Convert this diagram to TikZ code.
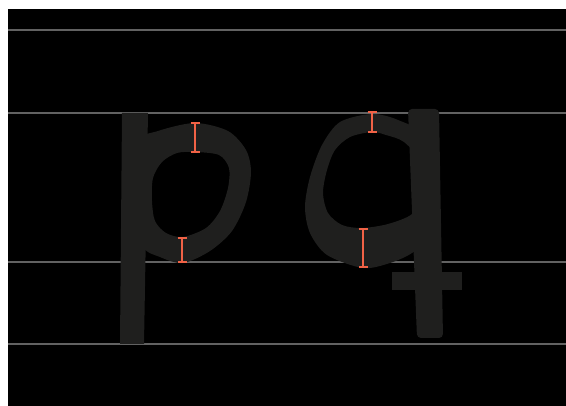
\documentclass[tikz,border=0pt]{standalone}
\usepackage{tikz}
\usetikzlibrary{arrows.meta}
\usepackage{xcolor}
\definecolor{guidegray}{RGB}{98,98,98}
\definecolor{glyphgray}{RGB}{31,31,30}
\definecolor{gaugered}{RGB}{240,98,70}

\begin{document}
\begin{tikzpicture}[x=1pt, y=-1pt,
  guide/.style ={draw=guidegray, line width=1.8pt},
  glyph/.style ={fill=glyphgray},
  gauge/.style ={draw=gaugered, line width=2pt,
                 {Bar[width=9pt]}-{Bar[width=9pt]}}
]
  %% ── Page: white margin top/left, black field ────────────────────────────
  \useasboundingbox (0,0) rectangle (566,406);
  \fill[white] (0,0) rectangle (566,406);
  \fill[black] (8,9) rectangle (566,406);

  %% ── Guide lines: ascender, x-height, baseline, descender ────────────────
  \foreach \gy in {30,113,262,344}
    \draw[guide] (8,\gy) -- (566,\gy);

  %% ── Letter p: stem + bowl with counter ──────────────────────────────────
  \fill[glyph] (122,113) -- (148,113) -- (144,344) -- (120,344) -- cycle;
  \fill[glyph, even odd rule]
    plot[smooth cycle] coordinates {(138,142) (158,131) (195,123) (228,131)
      (246,150) (251,172) (246,202) (232,231) (210,251) (183,263) (160,257)
      (142,245) (134,195)}
    plot[smooth cycle] coordinates {(195,152) (219,155) (229,168) (228,188)
      (220,211) (206,228) (183,237) (166,233) (155,221) (152,201) (153,178)
      (162,162) (177,153)};

  %% ── Letter q: bowl with counter, then stem and cross bar ────────────────
  \fill[glyph, even odd rule]
    plot[smooth cycle] coordinates {(422,136) (398,120) (372,114) (340,122)
      (322,145) (310,177) (305,207) (310,233) (327,255) (363,268) (390,263)
      (412,253) (426,238) (430,190)}
    plot[smooth cycle] coordinates {(372,132) (350,137) (335,150) (327,170)
      (323,193) (328,213) (342,225) (362,228) (388,224) (412,214) (420,195)
      (420,162) (404,142) (386,135)};
  \fill[glyph, rounded corners=4pt]
    (408,109) -- (439,109) -- (443,338) -- (417,338) -- cycle;
  \fill[glyph] (392,272) rectangle (462,290);

  %% ── Stroke thickness gauges ─────────────────────────────────────────────
  \draw[gauge] (195,122) -- (195,153);
  \draw[gauge] (182,237) -- (182,263);
  \draw[gauge] (372,111) -- (372,133);
  \draw[gauge] (363,228) -- (363,268);

\end{tikzpicture}
\end{document}
